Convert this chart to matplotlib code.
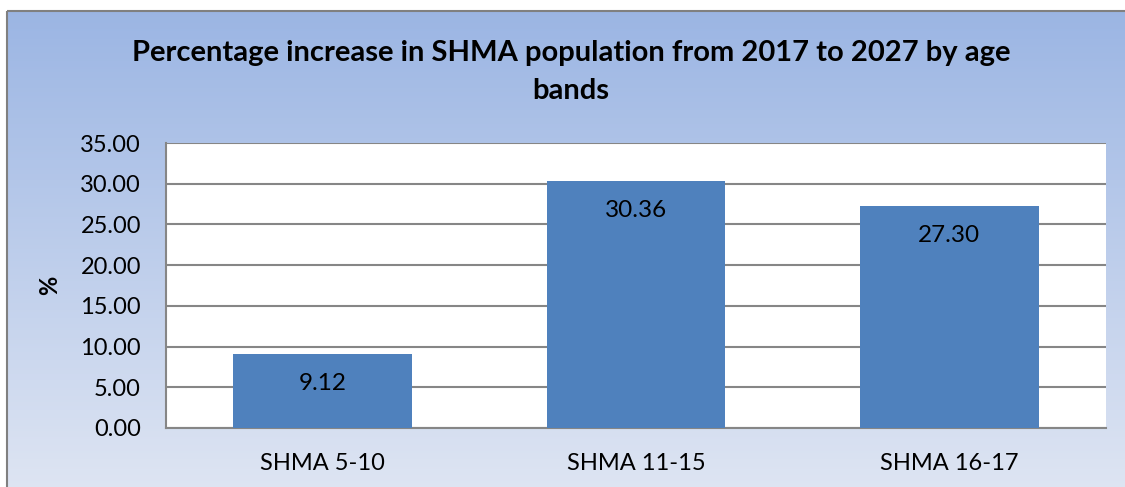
import numpy as np
import matplotlib
matplotlib.use("Agg")
import matplotlib.pyplot as plt
from matplotlib.colors import LinearSegmentedColormap
from matplotlib.patches import Rectangle

categories = ["SHMA 5-10", "SHMA 11-15", "SHMA 16-17"]
values = [9.12, 30.36, 27.30]
yticks = [0, 5, 10, 15, 20, 25, 30, 35]
title = "Percentage increase in SHMA population from 2017 to 2027 by age\nbands"

plt.rcParams['font.family'] = ['Lato', 'DejaVu Sans']

W, H = 1125, 487
fig = plt.figure(figsize=(W / 100, H / 100), dpi=100)
fig.patch.set_facecolor("white")

# gradient background frame, drawn as thin horizontal strips
bg = fig.add_axes([0, 0, 1, 1], zorder=0)
bg.axis("off")
bg.set_xlim(0, W)
bg.set_ylim(H, 0)
cmap = LinearSegmentedColormap.from_list("g", ["#9BB5E3", "#DDE4F2"])
n = 240
edges = np.linspace(11, H, n + 1)
for i in range(n):
    bg.add_patch(Rectangle((7, edges[i]), W, edges[i + 1] - edges[i] + 0.6,
                           facecolor=cmap(i / (n - 1)), edgecolor="none", linewidth=0))
bg.plot([7, 7], [11, H], color="#808080", linewidth=1.5, solid_capstyle="butt")
bg.plot([7, W], [11, 11], color="#808080", linewidth=1.5, solid_capstyle="butt")

ax = fig.add_axes([166 / W, (H - 428) / H, 940 / W, 285 / H], zorder=1)
ax.set_facecolor("white")
x = np.arange(len(categories))
bars = ax.bar(x, values, width=0.57, color="#4F81BD", zorder=3)
ax.set_xlim(-0.5, 2.5)
ax.set_ylim(0, 35)
ax.set_yticks(yticks)
ax.set_yticklabels([f"{v:.2f}" for v in yticks])
ax.set_xticks(x)
ax.set_xticklabels(categories)
ax.yaxis.grid(True, color="#868686", linewidth=1.5, zorder=0)
ax.set_axisbelow(True)
for s in ["top", "right"]:
    ax.spines[s].set_visible(False)
for s in ["left", "bottom"]:
    ax.spines[s].set_color("#868686")
    ax.spines[s].set_linewidth(1.5)
ax.tick_params(axis="y", length=0, labelsize=17, colors="black", pad=18)
ax.tick_params(axis="x", length=0, labelsize=17, colors="black", pad=18)

for xi, v in zip(x, values):
    ax.annotate(f"{v:.2f}", (xi, v), xytext=(0, -30), textcoords="offset pixels",
                ha="center", va="center", fontsize=17.5, color="black", zorder=4)

ax.set_ylabel("%", fontsize=17, fontweight="bold", labelpad=14)

fig.text(571 / W, 1 - 72 / H, title, ha="center", va="center", fontsize=21,
         fontweight="bold", linespacing=1.55)

fig.savefig("out.png", dpi=100)
